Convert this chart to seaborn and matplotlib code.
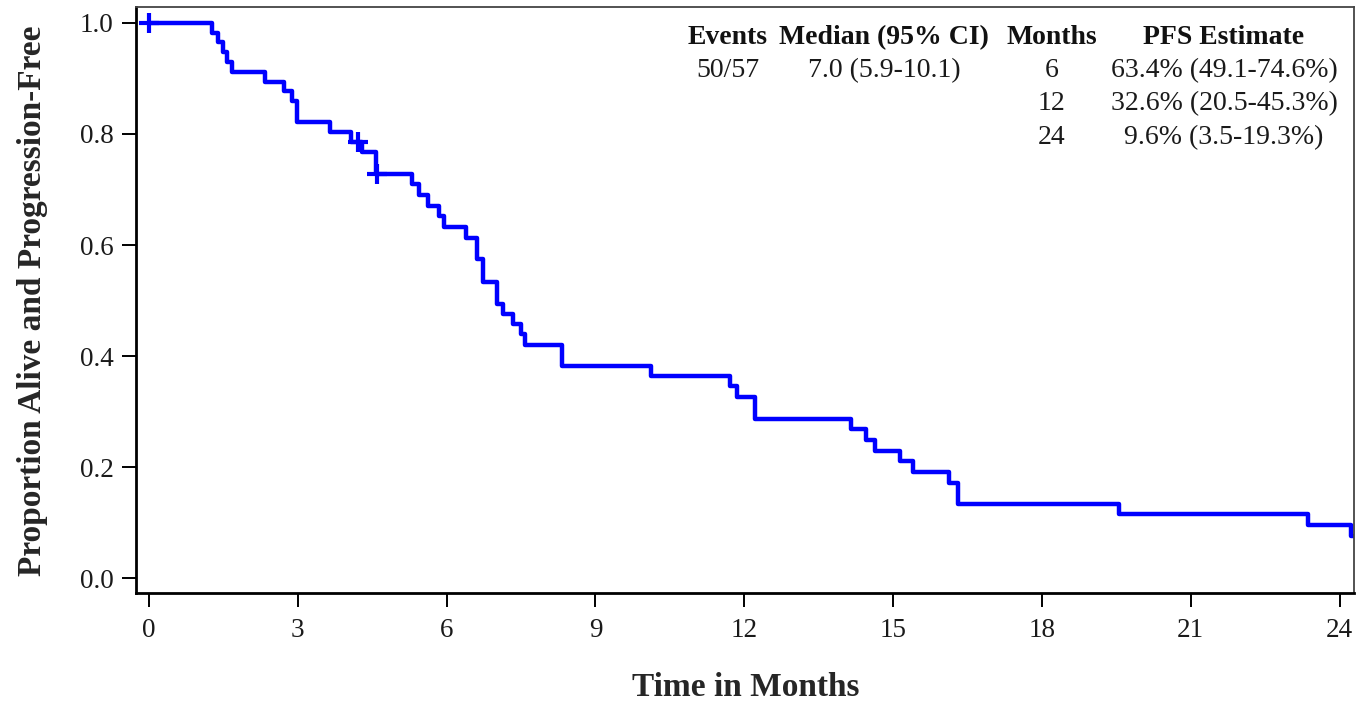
import numpy as np
import pandas as pd
import matplotlib
matplotlib.use("Agg")
import matplotlib.pyplot as plt
import seaborn as sns

# ---- data ----
step_times = [0.0, 1.27, 1.40, 1.50, 1.58, 1.67, 2.34, 2.72, 2.89, 2.98, 3.65, 4.07,
              4.30, 4.58, 5.31, 5.44, 5.62, 5.84, 5.94, 6.40, 6.61, 6.73, 7.01, 7.14,
              7.34, 7.51, 7.58, 8.32, 10.13, 11.71, 11.85, 12.22, 14.15, 14.45, 14.64,
              15.14, 15.41, 16.12, 16.30, 19.56, 23.36, 24.23, 24.45]
step_surv = [1.000, 0.982, 0.965, 0.947, 0.930, 0.912, 0.894, 0.877, 0.859, 0.821, 0.803,
             0.786, 0.767, 0.728, 0.709, 0.690, 0.671, 0.652, 0.632, 0.612, 0.574, 0.534,
             0.493, 0.475, 0.457, 0.439, 0.420, 0.382, 0.364, 0.346, 0.326, 0.287, 0.268,
             0.249, 0.230, 0.211, 0.191, 0.172, 0.134, 0.115, 0.096, 0.077, 0.077]
censor_times = [0.0, 4.21, 4.60]

x_ticks = [0, 3, 6, 9, 12, 15, 18, 21, 24]
y_ticks = [0.0, 0.2, 0.4, 0.6, 0.8, 1.0]

table_headers = ["Events", "Median (95% CI)", "Months", "PFS Estimate"]
events_text = ["50/57"]
median_text = ["7.0 (5.9-10.1)"]
landmark_months = ["6", "12", "24"]
pfs_estimates = ["63.4% (49.1-74.6%)", "32.6% (20.5-45.3%)", "9.6% (3.5-19.3%)"]

# ---- build frames ----
curve = pd.DataFrame({"time": step_times, "surv": step_surv})
idx = np.searchsorted(np.array(step_times), np.array(censor_times), side="right") - 1
censors = pd.DataFrame({"time": censor_times, "surv": np.array(step_surv)[idx]})

sns.set_theme(style="white")
plt.rcParams["font.family"] = ["Liberation Serif", "DejaVu Serif"]

fig = plt.figure(figsize=(13.72, 7.07), dpi=100)
ax = fig.add_axes([136 / 1372, 1 - 593.3 / 707, (1354 - 136) / 1372, (593.3 - 7.3) / 707])

sns.lineplot(data=curve, x="time", y="surv", ax=ax, color="#0000FF", linewidth=3.2,
             drawstyle="steps-post", estimator=None, sort=False)
sns.scatterplot(data=censors, x="time", y="surv", ax=ax, marker="+", s=200,
                color="#0000FF", linewidth=3.0, zorder=5)

ax.set_xlim(-0.26, 24.29)
ax.set_ylim(-0.027, 1.028)
ax.set_xticks(x_ticks)
ax.set_xticklabels([str(t) for t in x_ticks])
ax.set_yticks(y_ticks)
ax.set_yticklabels([f"{v:.1f}" for v in y_ticks])

ax.tick_params(axis="both", which="major", direction="out", length=10, width=1.4,
               color="black", labelsize=19.5, labelcolor="#1a1a1a")
ax.tick_params(axis="x", pad=8, bottom=True)
ax.tick_params(axis="y", pad=6, left=True)

for side in ["left", "bottom"]:
    ax.spines[side].set_color("black")
    ax.spines[side].set_linewidth(2.0)
for side in ["top", "right"]:
    ax.spines[side].set_color("#444444")
    ax.spines[side].set_linewidth(1.3)
    ax.spines[side].set_visible(True)

ax.set_xlabel("Time in Months", fontsize=24, fontweight="bold")
ax.set_ylabel("Proportion Alive and Progression-Free", fontsize=24, fontweight="bold")
ax.xaxis.set_label_coords((746 - 136) / 1218, (593.3 - 672) / 586)
ax.yaxis.set_label_coords((48 - 136) / 1218, (593.3 - 301) / 586)
ax.grid(False)

# ---- table annotation ----
col_x = [11.67, 14.82, 18.2, 21.67]
row_y = [0.974, 0.9147, 0.8553, 0.794]
for cx, h in zip(col_x, table_headers):
    ax.text(cx, row_y[0], h, ha="center", va="center", fontsize=20, fontweight="bold",
            color="#111111")
ax.text(col_x[0], row_y[1], events_text[0], ha="center", va="center", fontsize=20,
        color="#1a1a1a")
ax.text(col_x[1], row_y[1], median_text[0], ha="center", va="center", fontsize=20,
        color="#1a1a1a")
for i, (m, p) in enumerate(zip(landmark_months, pfs_estimates)):
    ax.text(col_x[2], row_y[i + 1], m, ha="center", va="center", fontsize=20,
            color="#1a1a1a")
    ax.text(col_x[3], row_y[i + 1], p, ha="center", va="center", fontsize=20,
            color="#1a1a1a")

fig.savefig("out.png", dpi=100)
